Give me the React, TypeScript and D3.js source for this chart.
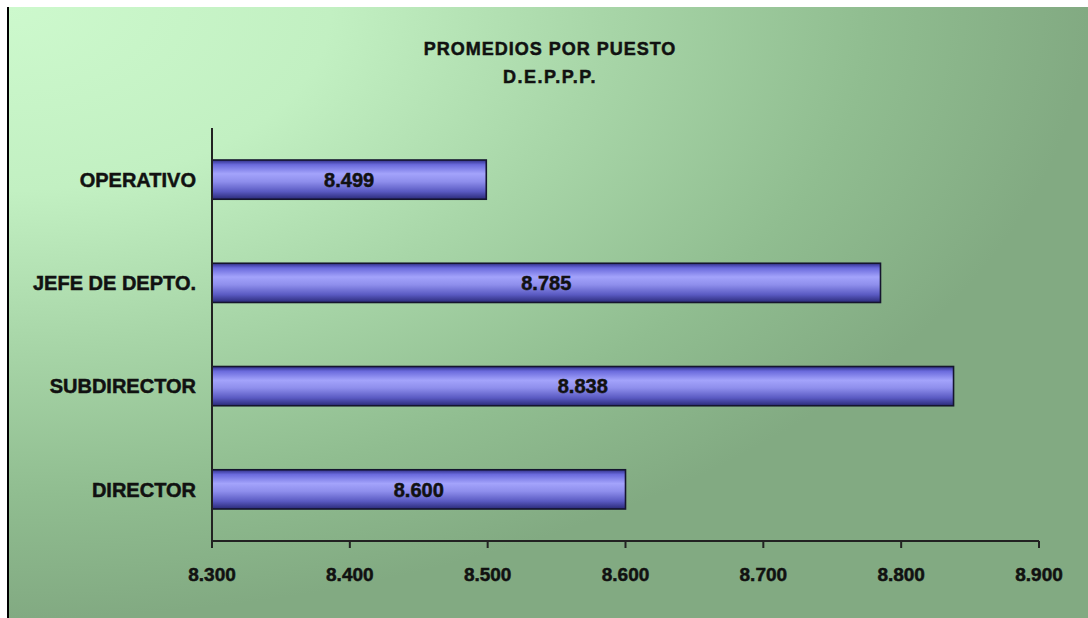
import React from "react";
import * as d3 from "d3";

const categories = ["OPERATIVO", "JEFE DE DEPTO.", "SUBDIRECTOR", "DIRECTOR"];
const values = [8.499, 8.785, 8.838, 8.6];
const xTicks = [8.3, 8.4, 8.5, 8.6, 8.7, 8.8, 8.9];
const titleLines = ["PROMEDIOS POR PUESTO", "D.E.P.P.P."];

const W = 1088;
const H = 618;
const plot = { left: 212, right: 1039, top: 128, bottom: 541 };
const FONT = "'Liberation Sans', Arial, sans-serif";

export default function App() {
  const x = d3.scaleLinear().domain([8.3, 8.9]).range([plot.left, plot.right]);
  const y = d3
    .scaleBand<string>()
    .domain(categories)
    .range([plot.top, plot.bottom])
    .paddingInner(0.62)
    .paddingOuter(0.31);
  const fmt = d3.format(".3f");
  const bw = y.bandwidth();
  const heavy = { stroke: "#111", strokeWidth: 0.5 };

  return (
    <svg
      width={W}
      height={H}
      style={{ position: "absolute", left: 0, top: 0 }}
      fontFamily={FONT}
    >
      <defs>
        <radialGradient id="bg" cx="0" cy="0" r="1" fx="0" fy="0" gradientUnits="objectBoundingBox">
          <stop offset="0" stopColor="#cdf9cd" />
          <stop offset="0.3" stopColor="#c2f0c2" />
          <stop offset="0.55" stopColor="#a8d6a8" />
          <stop offset="0.8" stopColor="#90bd90" />
          <stop offset="1" stopColor="#82aa82" />
        </radialGradient>
        <linearGradient id="bar" x1="0" y1="0" x2="0" y2="1">
          <stop offset="0" stopColor="#30308a" />
          <stop offset="0.12" stopColor="#6a6adc" />
          <stop offset="0.35" stopColor="#a3a3fb" />
          <stop offset="0.55" stopColor="#8e8eec" />
          <stop offset="0.8" stopColor="#5a5ac2" />
          <stop offset="1" stopColor="#2a2a78" />
        </linearGradient>
      </defs>
      <rect x={0} y={0} width={W} height={H} fill="#ffffff" />
      <rect x={7} y={7} width={W - 7} height={H - 7} fill="url(#bg)" />
      <line x1={8} y1={7} x2={8} y2={H} stroke="#000" strokeWidth={2} />

      {titleLines.map((t, i) => (
        <text
          key={t}
          x={550}
          y={55 + i * 28}
          textAnchor="middle"
          fontSize={18}
          fontWeight="bold"
          letterSpacing={i === 0 ? 1 : 1.5}
          fill="#111"
          {...heavy}
        >
          {t}
        </text>
      ))}

      {categories.map((c, i) => {
        const y0 = y(c)!;
        return (
          <g key={c}>
            <rect
              x={x(8.3)}
              y={y0}
              width={x(values[i]) - x(8.3)}
              height={bw}
              fill="url(#bar)"
              stroke="#15152e"
              strokeWidth={1.6}
            />
            <text
              x={(x(8.3) + x(values[i])) / 2}
              y={y0 + bw / 2}
              dy="0.36em"
              textAnchor="middle"
              fontSize={20}
              fontWeight="bold"
              fill="#111"
              {...heavy}
            >
              {fmt(values[i])}
            </text>
            <text
              x={196}
              y={y0 + bw / 2}
              dy="0.36em"
              textAnchor="end"
              fontSize={20}
              fontWeight="bold"
              fill="#111"
              {...heavy}
            >
              {c}
            </text>
          </g>
        );
      })}

      <line x1={plot.left} y1={plot.top} x2={plot.left} y2={plot.bottom + 7} stroke="#222" strokeWidth={2} />
      <line x1={plot.left} y1={plot.bottom} x2={plot.right} y2={plot.bottom} stroke="#222" strokeWidth={2} />
      {xTicks.map((t) => (
        <g key={t}>
          <line x1={x(t)} y1={plot.bottom} x2={x(t)} y2={plot.bottom + 7} stroke="#222" strokeWidth={2} />
          <text
            x={x(t)}
            y={581}
            textAnchor="middle"
            fontSize={19}
            fontWeight="bold"
            fill="#111"
            {...heavy}
          >
            {fmt(t)}
          </text>
        </g>
      ))}
    </svg>
  );
}
